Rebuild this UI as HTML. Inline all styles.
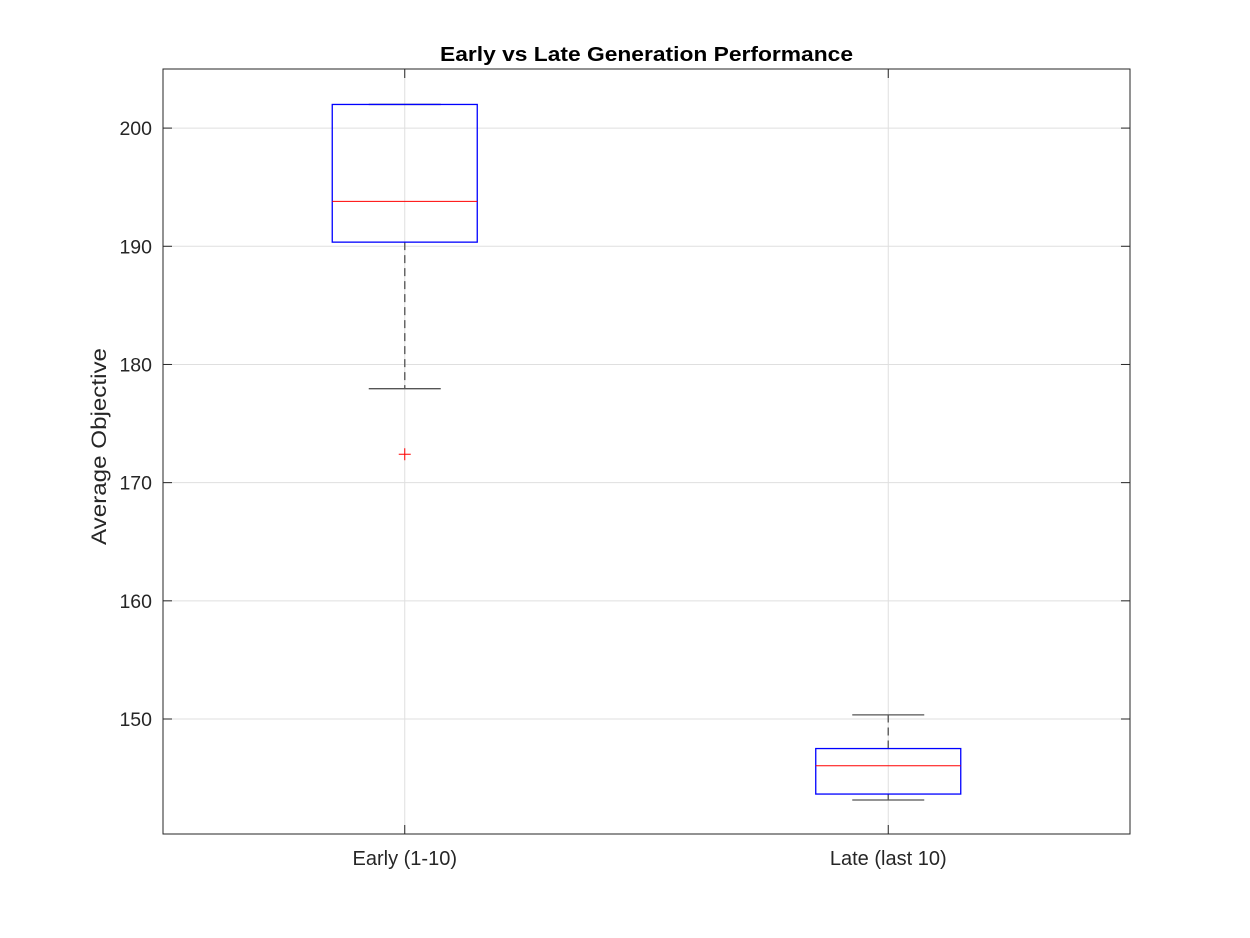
<!DOCTYPE html>
<html><head><meta charset="utf-8"><style>
html,body{margin:0;padding:0;background:#fff;}
svg{display:block;font-family:"Liberation Sans",Arial,sans-serif;}
</style></head><body>
<svg id="chart" width="1250" height="938" viewBox="0 0 1250 938" xmlns="http://www.w3.org/2000/svg">
<rect x="0" y="0" width="1250" height="938" fill="#fff"/>
<text x="646.5" y="61" text-anchor="middle" font-size="20" font-weight="bold" fill="#000" textLength="413" lengthAdjust="spacingAndGlyphs">Early vs Late Generation Performance</text>
<text transform="translate(106,446.5) rotate(-90)" text-anchor="middle" font-size="21" fill="#262626" textLength="197" lengthAdjust="spacingAndGlyphs">Average Objective</text>
<g id="grid"></g><g id="boxes"></g><g id="axes"></g>
</svg>
<script>
const categories = ["Early (1-10)", "Late (last 10)"];
const q1Values = [190.35, 143.65];
const medianValues = [193.8, 146.05];
const q3Values = [202.0, 147.5];
const lowerWhisker = [177.95, 143.15];
const upperWhisker = [202.0, 150.35];
const outlierValues = [[172.4], []];
const yTicks = [150, 160, 170, 180, 190, 200];

const L=163,R=1130,T=69,B=834, yMin=140.27, yMax=205.0;
const NS="http://www.w3.org/2000/svg";
function y(v){return B-(v-yMin)/(yMax-yMin)*(B-T);}
function x(i){return L+(i+0.5)/categories.length*(R-L);}
function mk(tag,attrs,parent){const e=document.createElementNS(NS,tag);for(const k in attrs)e.setAttribute(k,attrs[k]);parent.appendChild(e);return e;}
const grid=document.getElementById('grid'),boxes=document.getElementById('boxes'),axes=document.getElementById('axes');
yTicks.forEach(t=>{
  const g=mk('line',{x1:L,x2:R,y1:y(t),y2:y(t),stroke:'#dfdfdf','stroke-width':1},grid);
  
  
  mk('line',{x1:L,x2:L+9,y1:y(t),y2:y(t),stroke:'#262626'},axes);
  mk('line',{x1:R,x2:R-9,y1:y(t),y2:y(t),stroke:'#262626'},axes);
  const tx=mk('text',{x:L-11,y:y(t)+7,'text-anchor':'end','font-size':19.5,fill:'#262626'},axes);
  tx.textContent=t;
  
  
});
categories.forEach((c,i)=>{
  const cx=x(i);
  const g=mk('line',{x1:cx,x2:cx,y1:T,y2:B,stroke:'#dfdfdf'},grid);
  
  
  mk('line',{x1:cx,x2:cx,y1:B,y2:B-9,stroke:'#262626'},axes);
  mk('line',{x1:cx,x2:cx,y1:T,y2:T+9,stroke:'#262626'},axes);
  const tx=mk('text',{x:cx,y:B+31,'text-anchor':'middle','font-size':20,fill:'#262626'},axes);
  tx.textContent=c;
  
  
  const bw=145, cw=72;
  const grp=mk('g',{},boxes);
  
  
  mk('line',{x1:cx,x2:cx,y1:y(q3Values[i]),y2:y(upperWhisker[i]),stroke:'#666','stroke-width':1.5,'stroke-dasharray':'8 5'},grp);
  mk('line',{x1:cx,x2:cx,y1:y(q1Values[i]),y2:y(lowerWhisker[i]),stroke:'#666','stroke-width':1.5,'stroke-dasharray':'8 5'},grp);
  mk('line',{x1:cx-cw/2,x2:cx+cw/2,y1:y(upperWhisker[i]),y2:y(upperWhisker[i]),stroke:'#555','stroke-width':1.3},grp);
  mk('line',{x1:cx-cw/2,x2:cx+cw/2,y1:y(lowerWhisker[i]),y2:y(lowerWhisker[i]),stroke:'#555','stroke-width':1.3},grp);
  mk('rect',{x:cx-bw/2,y:y(q3Values[i]),width:bw,height:y(q1Values[i])-y(q3Values[i]),fill:'none',stroke:'#0000ff','stroke-width':1.3},grp);
  mk('line',{x1:cx-bw/2,x2:cx+bw/2,y1:y(medianValues[i]),y2:y(medianValues[i]),stroke:'#ff0000','stroke-width':1},grp);
  outlierValues[i].forEach(v=>{
    const o=mk('path',{d:`M${cx-6},${y(v)}H${cx+6}M${cx},${y(v)-6}V${y(v)+6}`,stroke:'#ff0000','stroke-width':1,fill:'none'},grp);
    
    
  });
});
const fr=mk('rect',{x:L,y:T,width:R-L,height:B-T,fill:'none',stroke:'#262626','stroke-width':1},axes);


</script>
</body></html>
